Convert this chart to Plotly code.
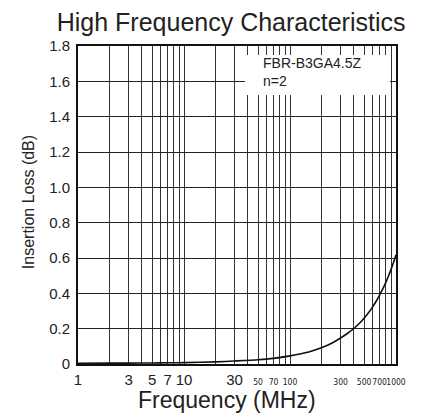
import plotly.graph_objects as go

# ---- data ----
freq_mhz = [1, 2, 3, 5, 7, 10, 20, 30, 50, 70, 100, 150, 200, 250, 300, 350, 400,
            450, 500, 550, 600, 650, 700, 750, 800, 850, 900, 950, 1000]
insertion_loss_db = [0.004, 0.005, 0.005, 0.006, 0.007, 0.008, 0.012, 0.017, 0.024,
                     0.032, 0.046, 0.068, 0.093, 0.119, 0.147, 0.174, 0.201, 0.229,
                     0.259, 0.290, 0.322, 0.355, 0.390, 0.425, 0.461, 0.498, 0.537,
                     0.577, 0.618]

x_grid_vals = [1, 2, 3, 4, 5, 6, 7, 8, 9, 10, 20, 30, 40, 50, 60, 70, 80, 90, 100,
               200, 300, 400, 500, 600, 700, 800, 900, 1000]
x_big_labels = {1: "1", 3: "3", 5: "5", 7: "7", 10: "10", 30: "30"}
x_small_labels = {50: "50", 70: "70", 100: "100", 300: "300", 500: "500",
                  700: "700", 1000: "1000"}

y_tick_vals = [0, 0.2, 0.4, 0.6, 0.8, 1.0, 1.2, 1.4, 1.6, 1.8]
y_tick_text = ["0", "0.2", "0.4", "0.6", "0.8", "1.0", "1.2", "1.4", "1.6", "1.8"]

title_text = "High Frequency Characteristics"
x_title = "Frequency (MHz)"
y_title = "Insertion Loss (dB)"
note_lines = ["FBR-B3GA4.5Z", "n=2"]

# ---- build tick text ----
small_style = ("font-size:8.5px;font-family:Liberation Sans Narrow,"
               "DejaVu Sans Condensed,Liberation Sans,Arial,sans-serif")
x_tick_text = []
for v in x_grid_vals:
    if v in x_big_labels:
        x_tick_text.append(x_big_labels[v])
    elif v in x_small_labels:
        x_tick_text.append(f'<span style="{small_style}">{x_small_labels[v]}</span>')
    else:
        x_tick_text.append("")

FONT = "Liberation Sans, Arial, sans-serif"
INK = "#222222"

fig = go.Figure()
fig.add_trace(go.Scatter(
    x=freq_mhz, y=insertion_loss_db, mode="lines",
    line=dict(color="#111111", width=1.6, shape="spline", smoothing=0.6),
    hoverinfo="skip", showlegend=False,
))

fig.update_layout(
    width=428, height=419,
    margin=dict(l=78, r=32, t=46, b=55, autoexpand=False),
    paper_bgcolor="white", plot_bgcolor="white",
    font=dict(family=FONT, color=INK, size=14),
    title=dict(text=title_text, x=0.54, xanchor="center", y=0.947, yanchor="middle",
               font=dict(size=25, family=FONT, color=INK)),
    xaxis=dict(
        type="log", range=[0, 3], automargin=False, tickangle=0,
        tickmode="array", tickvals=x_grid_vals, ticktext=x_tick_text,
        ticks="", ticklabelstandoff=1, showgrid=True, gridcolor="#333333", gridwidth=1,
        showline=True, linecolor="#111111", linewidth=2, mirror=True,
        zeroline=False, tickfont=dict(size=15, family=FONT, color=INK),
    ),
    yaxis=dict(
        range=[0, 1.8], automargin=False, tickmode="array",
        tickvals=y_tick_vals, ticktext=y_tick_text,
        ticks="", ticklabelstandoff=3, showgrid=True, gridcolor="#222222", gridwidth=1,
        showline=True, linecolor="#111111", linewidth=2, mirror=True,
        zeroline=False, tickfont=dict(size=15, family=FONT, color=INK),
    ),
)

# axis titles
fig.add_annotation(xref="paper", yref="paper", x=0.47, y=-0.112,
                   xanchor="center", yanchor="middle", showarrow=False,
                   text=x_title, font=dict(size=23, family=FONT, color=INK))
fig.add_annotation(xref="paper", yref="paper", x=-0.155, y=0.508, textangle=-90,
                   xanchor="center", yanchor="middle", showarrow=False,
                   text=y_title, font=dict(size=16, family=FONT, color=INK))

# white label box
fig.add_shape(type="rect", xref="paper", yref="paper",
              x0=0.525, x1=0.981, y0=0.846, y1=0.972,
              fillcolor="white", line=dict(width=0), layer="above")
fig.add_annotation(xref="paper", yref="paper", x=0.575, y=0.978,
                   xanchor="left", yanchor="top", align="left", showarrow=False,
                   text="<br>".join(note_lines),
                   font=dict(size=14, family=FONT, color=INK))

fig.write_html("out.html")
